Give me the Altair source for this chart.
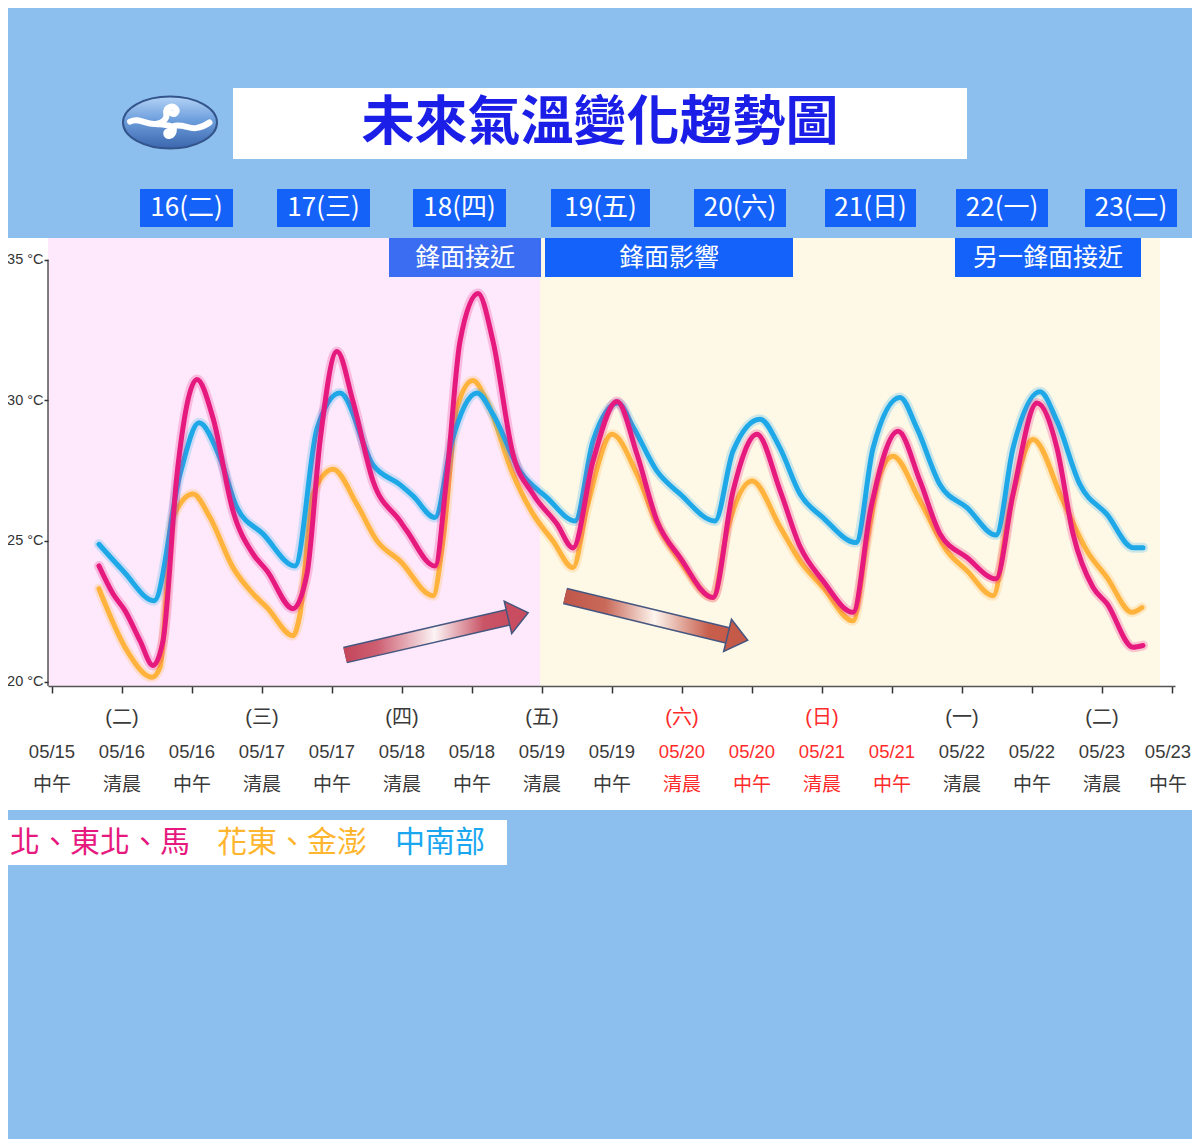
import altair as alt
import pandas as pd

CJK = "Noto Sans CJK TC"
NUMF = "Liberation Sans, Noto Sans CJK TC, sans-serif"

# ---------------- data ----------------
title_text = "未來氣溫變化趨勢圖"
day_labels = ["16(二)", "17(三)", "18(四)", "19(五)", "20(六)", "21(日)", "22(一)", "23(二)"]
front_labels = ["鋒面接近", "鋒面影響", "另一鋒面接近"]
series_names = ["北、東北、馬", "花東、金澎", "中南部"]

tick_index = [0, 1, 2, 3, 4, 5, 6, 7, 8, 9, 10, 11, 12, 13, 14, 15, 16]
tick_dates = ["05/15", "05/16", "05/16", "05/17", "05/17", "05/18", "05/18", "05/19", "05/19",
              "05/20", "05/20", "05/21", "05/21", "05/22", "05/22", "05/23", "05/23"]
tick_times = ["中午", "清晨", "中午", "清晨", "中午", "清晨", "中午", "清晨", "中午",
              "清晨", "中午", "清晨", "中午", "清晨", "中午", "清晨", "中午"]
tick_weekdays = ["", "(二)", "", "(三)", "", "(四)", "", "(五)", "",
                 "(六)", "", "(日)", "", "(一)", "", "(二)", ""]
tick_holiday = [0, 0, 0, 0, 0, 0, 0, 0, 0, 1, 1, 1, 1, 0, 0, 0, 0]

north_x = [0.671, 0.871, 1.043, 1.257, 1.443, 1.586, 1.786, 2.071, 2.300, 2.586,
           2.871, 3.071, 3.443, 3.643, 3.829, 4.071, 4.300, 4.586, 4.971, 5.071,
           5.471, 5.643, 5.829, 6.086, 6.300, 6.586, 6.871, 7.214, 7.443, 7.729,
           8.071, 8.357, 8.643, 8.971, 9.443, 9.729, 10.071, 10.400, 10.686, 11.014,
           11.443, 11.700, 12.086, 12.400, 12.686, 13.071, 13.486, 13.729, 14.071, 14.357,
           14.586, 14.871, 15.071, 15.443, 15.586]
north_t = [24.11, 23.12, 22.52, 21.45, 20.57, 21.45, 27.37, 30.74, 29.37, 26.06,
           24.54, 23.94, 22.59, 23.83, 28.55, 31.74, 29.96, 27.13, 25.71, 25.35,
           24.11, 27.37, 32.10, 33.80, 32.10, 28.08, 26.67, 25.60, 24.75, 27.84,
           29.96, 28.08, 25.71, 24.41, 22.99, 26.77, 28.79, 26.80, 24.80, 23.58,
           22.46, 26.18, 28.90, 27.13, 25.25, 24.41, 23.65, 26.67, 29.90, 28.30,
           25.25, 23.35, 22.77, 21.22, 21.28]

east_x = [0.671, 1.071, 1.429, 1.543, 1.729, 2.014, 2.257, 2.586, 2.871, 3.071,
          3.443, 3.543, 3.729, 4.014, 4.357, 4.643, 4.971, 5.443, 5.586, 5.786,
          6.014, 6.214, 6.586, 6.871, 7.157, 7.443, 7.643, 8.000, 8.357, 8.643,
          8.971, 9.443, 9.643, 10.000, 10.400, 10.686, 11.014, 11.443, 11.643, 11.829,
          12.014, 12.400, 12.786, 13.071, 13.443, 13.686, 14.014, 14.443, 14.786, 15.071,
          15.429, 15.571]
east_t = [23.30, 21.10, 20.15, 20.50, 25.83, 26.67, 25.83, 24.05, 23.12, 22.63,
          21.63, 22.40, 26.67, 27.55, 26.30, 25.00, 24.29, 23.05, 25.00, 29.73,
          30.70, 29.96, 27.37, 25.96, 25.00, 24.05, 26.18, 28.79, 27.37, 25.60,
          24.29, 22.99, 25.35, 27.13, 25.50, 24.29, 23.35, 22.16, 25.00, 27.37,
          28.01, 26.42, 24.64, 23.94, 23.05, 26.18, 28.61, 26.42, 24.64, 23.70,
          22.46, 22.63]

south_x = [0.671, 1.014, 1.457, 1.829, 2.100, 2.400, 2.643, 3.014, 3.471, 3.786,
           4.114, 4.586, 4.971, 5.157, 5.471, 5.714, 6.071, 6.300, 6.686, 7.071,
           7.471, 7.729, 8.086, 8.300, 8.643, 8.971, 9.471, 9.729, 10.114, 10.400,
           10.686, 11.014, 11.486, 11.729, 12.114, 12.357, 12.686, 13.071, 13.486, 13.729,
           14.114, 14.357, 14.686, 15.071, 15.443, 15.586]
south_t = [24.88, 23.94, 22.87, 27.37, 29.20, 27.95, 26.18, 25.25, 24.11, 29.00,
           30.26, 27.70, 27.00, 26.60, 25.83, 28.55, 30.26, 29.50, 27.48, 26.54,
           25.71, 28.55, 29.90, 29.06, 27.48, 26.67, 25.71, 28.20, 29.33, 28.30,
           26.67, 25.83, 24.94, 28.30, 30.10, 29.00, 27.00, 26.18, 25.21, 28.30,
           30.30, 29.26, 27.00, 25.94, 24.76, 24.76]

region_start = [-0.0571, 6.9714]
region_end = [6.9714, 15.8286]

arrow1_x = [4.186, 6.514]
arrow1_t = [20.94, 22.28]
arrow2_x = [7.329, 9.651]
arrow2_t = [23.04, 21.64]

# ---------------- styles / helpers ----------------
PINK = "#E6197E"
ORANGE = "#FFB23C"
BLUE = "#1FA8E8"

XS = alt.Scale(domain=[-0.05714, 16.04286], nice=False, zero=False)
YS = alt.Scale(domain=[19.84, 35.772], nice=False, zero=False)
XAX = alt.Axis(values=tick_index, labels=False, title=None, grid=False, tickSize=7,
               tickColor="#333333", tickWidth=1.5, domainColor="#555555", domainWidth=1.5,
               zindex=1)
YAX = alt.Axis(values=[20, 25, 30, 35], labelExpr="datum.value + ' °C'", title=None,
               grid=False, domain=False, tickSize=4, tickColor="#333333", tickWidth=1.5,
               labelFont=NUMF, labelFontSize=14.5, labelColor="#333333", labelPadding=1,
               labelOverlap=False, zindex=1)

one = pd.DataFrame({"k": [0]})


def vbox(x0, y0, x1, y1, color):
    return alt.Chart(one).mark_rect(color=color).encode(
        x=alt.value(x0 - 48), x2=alt.value(x1 - 48),
        y=alt.value(y0 - 238), y2=alt.value(y1 - 238))


def vtext(txt, x, y, size, color, align="center", weight="normal", font=CJK):
    return alt.Chart(one).mark_text(text=txt, fontSize=size, color=color, align=align,
                                    baseline="middle", fontWeight=weight, font=font).encode(
        x=alt.value(x - 48), y=alt.value(y - 238))


layers = []

# white panel behind plot + axis labels
layers.append(vbox(0, 238, 1200, 810, "white"))

# coloured plot regions
for s, e, c in zip(region_start, region_end, ["#FEE9FC", "#FEF8E7"]):
    d = pd.DataFrame({"s": [s], "e": [e]})
    layers.append(alt.Chart(d).mark_rect(color=c).encode(
        x=alt.X("s:Q", scale=XS, axis=XAX), x2="e:Q",
        y=alt.value(0), y2=alt.value(448)))

# title box
layers.append(vbox(233, 88, 967, 159, "white"))
layers.append(vtext(title_text, 600, 124, 53, "#1A1EE6", weight="bold"))

# logo
ELLIPSE = ("M -1 0 C -1 -0.305 -0.552 -0.553 0 -0.553 C 0.552 -0.553 1 -0.305 1 0 "
           "C 1 0.305 0.552 0.553 0 0.553 C -0.552 0.553 -1 0.305 -1 0 Z")
SWIRL = ("M -0.85 -0.02 C -0.65 -0.12 -0.5 0.06 -0.3 0.03 C -0.15 0.01 -0.05 -0.08 -0.08 -0.2 "
         "C -0.1 -0.32 0.05 -0.38 0.12 -0.3 C 0.18 -0.22 0.08 -0.14 0.03 -0.2 "
         "M -0.3 0.03 C -0.1 0.05 0.1 0.05 0.08 0.18 C 0.06 0.3 -0.08 0.32 -0.08 0.24 "
         "C -0.08 0.17 0.02 0.17 0.03 0.22 "
         "M 0.06 0.08 C 0.25 0.02 0.4 0.14 0.55 0.12 C 0.68 0.1 0.76 0.06 0.84 0.0")
logo_grad = {"gradient": "linear", "x1": 0, "y1": 0, "x2": 0, "y2": 1,
             "stops": [{"offset": 0, "color": "#B3D3F6"}, {"offset": 0.45, "color": "#6E9FDD"},
                       {"offset": 1, "color": "#3B66AE"}]}
layers.append(alt.Chart(one).mark_point(shape=ELLIPSE, size=8836, filled=True, fill=logo_grad,
                                        stroke="#34558C", strokeWidth=2, opacity=1).encode(
    x=alt.value(170 - 48), y=alt.value(122.5 - 238)))
layers.append(alt.Chart(one).mark_point(shape=SWIRL, size=8836, filled=False, color="white",
                                        strokeWidth=6, strokeCap="round", opacity=1).encode(
    x=alt.value(170 - 48), y=alt.value(122.5 - 238)))

# day boxes
day_boxes = [(140, 233), (277, 370), (413, 506), (551, 650), (694, 786), (825, 916),
             (956, 1048), (1085, 1177)]
for lab, (a, b) in zip(day_labels, day_boxes):
    layers.append(vbox(a, 189, b, 227, "#1562F8"))
    layers.append(vtext(lab, (a + b) / 2, 208, 26, "white"))

# front boxes
front_boxes = [(389, 541, "#3B6DF2"), (545, 793, "#1462FA"), (955, 1141, "#1462FA")]
for lab, (a, b, c) in zip(front_labels, front_boxes):
    layers.append(vbox(a, 238, b, 277, c))
    layers.append(vtext(lab, (a + b) / 2, 258, 25, "white"))

# legend box
layers.append(vbox(0, 820, 507, 865, "white"))
for lab, xs, c in zip(series_names, [10, 217, 395], [PINK, "#FFB52E", "#1AA7F0"]):
    layers.append(vtext(lab, xs, 843, 30, c, align="left"))

# y axis line
ydf = pd.DataFrame({"y": [35.0], "y2": [19.84]})
layers.append(alt.Chart(ydf).mark_rule(color="#555555", strokeWidth=1.5).encode(
    x=alt.value(0), y=alt.Y("y:Q", scale=YS, axis=YAX), y2="y2:Q"))


# arrows
def arrow(xs, ts, stops, head_color, angle):
    d = pd.DataFrame({"x": xs, "t": ts})
    grad = {"gradient": "linear", "x1": 0, "y1": 0, "x2": 1, "y2": 0, "stops": stops}
    outline = alt.Chart(d).mark_line(color="#45567F", strokeWidth=17, strokeCap="butt").encode(
        x=alt.X("x:Q", scale=XS, axis=XAX), y=alt.Y("t:Q", scale=YS, axis=YAX))
    body = alt.Chart(d).mark_line(stroke=grad, strokeWidth=14, strokeCap="butt").encode(
        x=alt.X("x:Q", scale=XS, axis=XAX), y=alt.Y("t:Q", scale=YS, axis=YAX))
    hd = pd.DataFrame({"x": [xs[1]], "t": [ts[1]]})
    head = alt.Chart(hd).mark_point(shape="M 0 -1 L 1.25 0 L 0 1 Z", size=1100, filled=True,
                                    fill=head_color, stroke="#45567F", strokeWidth=1.5,
                                    opacity=1, angle=angle).encode(
        x=alt.X("x:Q", scale=XS, axis=XAX), y=alt.Y("t:Q", scale=YS, axis=YAX))
    return [outline, body, head]


layers += arrow(arrow1_x, arrow1_t,
                [{"offset": 0, "color": "#C4465B"}, {"offset": 0.2, "color": "#CD6072"},
                 {"offset": 0.55, "color": "#FCF3F5"}, {"offset": 0.85, "color": "#C95567"},
                 {"offset": 1, "color": "#C84D60"}], "#C84D60", 347)
layers += arrow(arrow2_x, arrow2_t,
                [{"offset": 0, "color": "#C0564A"}, {"offset": 0.25, "color": "#C96A5A"},
                 {"offset": 0.55, "color": "#FDF5EE"}, {"offset": 0.88, "color": "#C8604E"},
                 {"offset": 1, "color": "#C65A48"}], "#C65A48", 13.6)

# temperature lines
for xs, ts, c in [(east_x, east_t, ORANGE), (south_x, south_t, BLUE), (north_x, north_t, PINK)]:
    d = pd.DataFrame({"x": xs, "t": ts})
    enc = dict(x=alt.X("x:Q", scale=XS, axis=XAX), y=alt.Y("t:Q", scale=YS, axis=YAX))
    layers.append(alt.Chart(d).mark_line(color=c, strokeWidth=10, opacity=0.22,
                                         interpolate="monotone", strokeJoin="round",
                                         strokeCap="round").encode(**enc))
    layers.append(alt.Chart(d).mark_line(color=c, strokeWidth=5, interpolate="monotone",
                                         strokeJoin="round", strokeCap="round").encode(**enc))

# x tick labels
tdf = pd.DataFrame({"i": tick_index, "date": tick_dates, "time": tick_times,
                    "wd": tick_weekdays, "hol": tick_holiday})
tcol = alt.condition("datum.hol == 1", alt.value("#FF2B2B"), alt.value("#3A3A3A"))
tdf_main = tdf[tdf["i"] < 16]
tdf_last = tdf[tdf["i"] == 16]
for field, ypos, size in [("wd", 718, 20), ("date", 752, 18.5), ("time", 785, 19)]:
    for sub, dx in [(tdf_main, 0), (tdf_last, -4)]:
        layers.append(alt.Chart(sub).mark_text(fontSize=size, font=NUMF, baseline="middle",
                                               align="center", dx=dx).encode(
            x=alt.X("i:Q", scale=XS, axis=XAX), y=alt.value(ypos - 238),
            text=f"{field}:N", color=tcol))

chart = alt.layer(*layers).properties(
    width=1127, height=448,
    padding={"left": 40, "top": 230, "right": 17, "bottom": 453},
    autosize=alt.AutoSizeParams(type="none"),
    background="#8CBFEE",
).configure_view(stroke=None)

chart.save("out.html", embed_options={"renderer": "svg", "actions": False})
